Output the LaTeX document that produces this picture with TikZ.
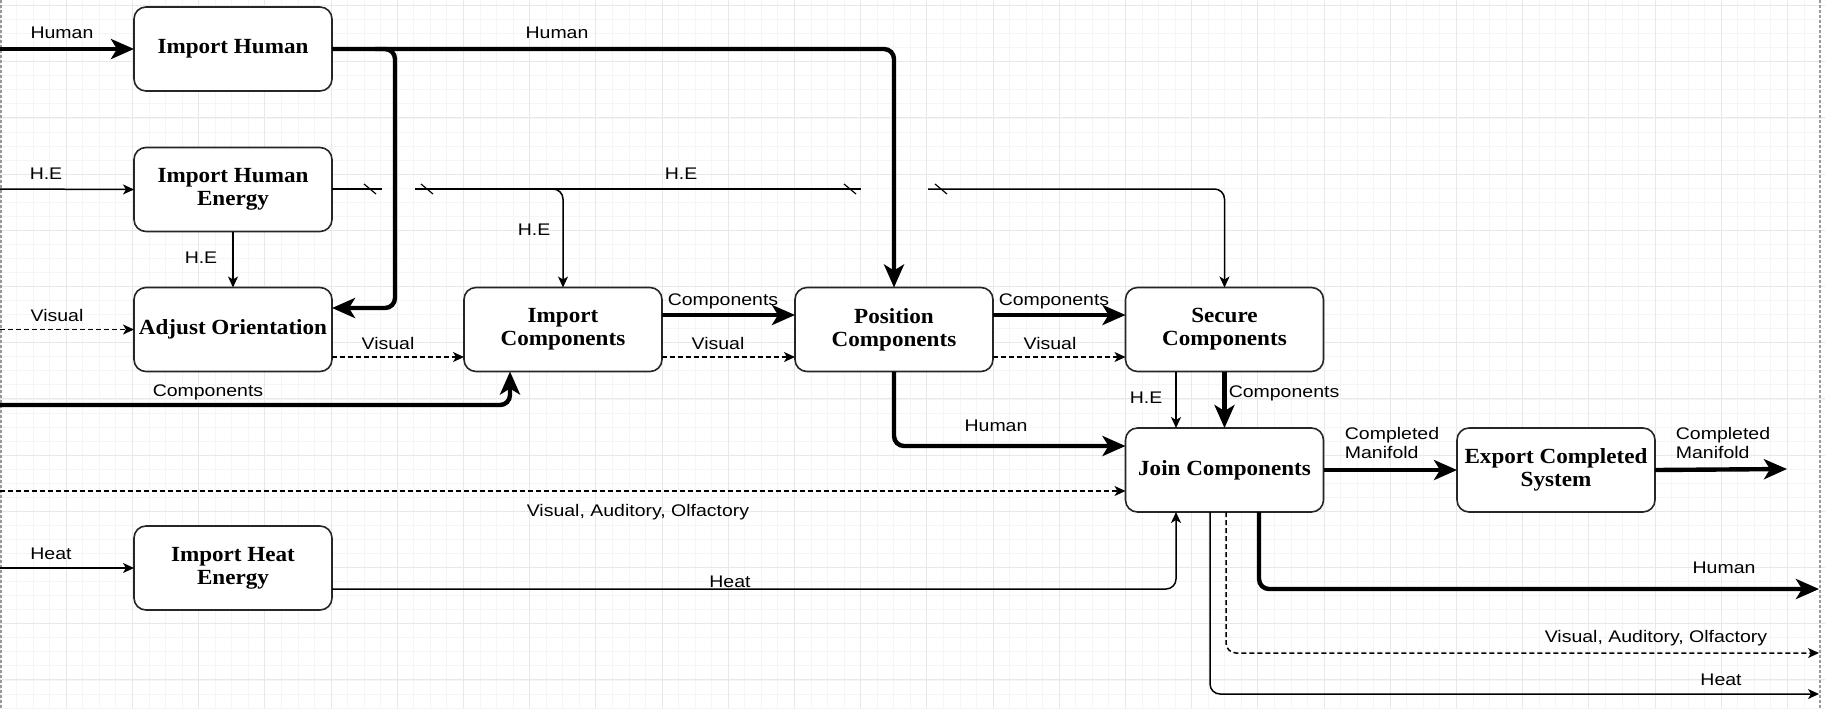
\documentclass[tikz,border=0pt]{standalone}
\usepackage{fontspec}
\newfontfamily\boxfont[FakeStretch=1.07]{Liberation Serif}
\newfontfamily\lblfont[FakeStretch=1.16]{Liberation Sans}
\usetikzlibrary{arrows.meta,calc}
\begin{document}
\begin{tikzpicture}[x=0.5pt,y=-0.5pt,
  box/.style={draw=black!85, line width=0.8pt, rounded corners=6pt, fill=white,
    minimum width=99pt, minimum height=42pt, inner sep=0pt, outer sep=0pt, align=center,
    font={\boxfont\bfseries\fontsize{10.8}{11.5}\selectfont}},
  lbl/.style={inner sep=0pt, font={\lblfont\fontsize{8.4}{9.6}\selectfont}},
  thk/.style={line width=2.2pt, rounded corners=5pt, -{Stealth[length=11.5pt,width=10pt,inset=3pt]}},
  thkline/.style={line width=2.2pt, rounded corners=5pt},
  thn/.style={line width=0.75pt, rounded corners=5pt, -{Stealth[length=5.5pt,width=5pt,inset=1.5pt]}},
  thnline/.style={line width=0.75pt, rounded corners=5pt},
  dsh/.style={thn, dash pattern=on 2.5pt off 1.5pt},
  tick/.style={line width=0.6pt},
  gminor/.style={line width=0.4pt, color=black!4},
  gmajor/.style={line width=0.5pt, color=black!9},
  pageb/.style={line width=0.6pt, color=black!40, dash pattern=on 1.5pt off 1pt}]

\fill[white] (0,0) rectangle (1825,708);
\useasboundingbox (0,0) rectangle (1825,708);
\begin{scope}
\clip (0,0) rectangle (1825,708);
\foreach \i in {0,...,111} {\draw[gminor] (\i*16.55,0) -- (\i*16.55,708);}
\foreach \j in {0,...,50} {\draw[gminor] (0,\j*14.05+5.5) -- (1825,\j*14.05+5.5);}
\foreach \i in {0,...,28} {\draw[gmajor] (\i*66.2,0) -- (\i*66.2,708);}
\foreach \j in {0,...,12} {\draw[gmajor] (0,\j*56.2+5.5) -- (1825,\j*56.2+5.5);}
\end{scope}
\draw[pageb] (1,0) -- (1,708);
\draw[pageb] (1820,0) -- (1820,708);

% boxes
\node[box] (ih)   at (233,49)    {Import Human};
\node[box] (ihe)  at (233,189.5) {Import Human\\Energy};
\node[box] (ao)   at (233,329.5) {Adjust Orientation};
\node[box] (ic)   at (563,329.5) {Import\\Components};
\node[box] (pc)   at (894,329.5) {Position\\Components};
\node[box] (sc)   at (1224.5,329.5) {Secure\\Components};
\node[box] (jc)   at (1224.5,470) {Join Components};
\node[box] (ecs)  at (1556,470)  {Export Completed\\System};
\node[box] (iht)  at (233,568)   {Import Heat\\Energy};

% free ends
\coordinate (inH)   at (0,49);
\coordinate (inHE)  at (0,189);
\coordinate (inV)   at (0,329.5);
\coordinate (inC)   at (0,405);
\coordinate (inVAO) at (0,491);
\coordinate (inHt)  at (0,568);
\coordinate (hs)    at (375,49);
\coordinate (g1a)   at (382,189);
\coordinate (g1b)   at (415,189);
\coordinate (g2a)   at (861,189);
\coordinate (g2b)   at (928,189);
\coordinate (hes)   at (540,189);
\coordinate (outCM) at (1787,469);
\coordinate (outH)  at (1819,589);
\coordinate (outV)  at (1819,653);
\coordinate (outHt) at (1819,694);

% Human
\draw[thk] (inH) -- (ih.west);
\draw[thk] (ih.east) -| (pc.north);
\draw[thk] (hs) -- (395,49) -- (395,308) -- (ao.east |- 0,308);

% Human energy
\draw[thn] (inHE) -- (ihe.west);
\draw[thn] (ihe.south) -- (ao.north);
\draw[thnline] (ihe.east |- 0,189) -- (g1a);
\draw[thnline] (g1b) -- (g2a);
\draw[thn] (g2b) -| (sc.north);
\draw[thn] (hes) -| (ic.north);
\draw[tick] (364,184) -- (376,194);
\draw[tick] (421,184) -- (433,194);
\draw[tick] (844,184) -- (856,194);
\draw[tick] (935,184) -- (947,194);

% Visual
\draw[dsh] (inV) -- (ao.west);
\draw[dsh] (ao.east |- 0,357) -- (ic.west |- 0,357);
\draw[dsh] (ic.east |- 0,357) -- (pc.west |- 0,357);
\draw[dsh] (pc.east |- 0,357) -- (sc.west |- 0,357);

% Components
\draw[thk] (inC) -| ($(ic.south)+(-53,0)$);
\draw[thk] (ic.east |- 0,315) -- (pc.west |- 0,315);
\draw[thk] (pc.east |- 0,315) -- (sc.west |- 0,315);
\draw[thk] (sc.south) -- (jc.north);
\draw[thn] (sc.south -| 1176,0) -- (jc.north -| 1176,0);
\draw[thk] (pc.south) |- (jc.west |- 0,446);

% VAO in
\draw[dsh] (inVAO) -- (jc.west |- 0,491);

% Heat
\draw[thn] (inHt) -- (iht.west);
\draw[thn] (iht.east |- 0,589) -| (jc.south -| 1176,0);

% outputs
\draw[thk] (jc.east) -- (ecs.west);
\draw[thk] (ecs.east) -- (outCM);
\draw[thk] (jc.south -| 1259,0) |- (outH);
\draw[dsh] (jc.south -| 1226,0) |- (outV);
\draw[thn] (jc.south -| 1210,0) |- (outHt);

% labels
\node[lbl] (l1)  at (62,33)    {Human};
\node[lbl] (l2)  at (557,33)   {Human};
\node[lbl] (l3)  at (46,174)   {H.E};
\node[lbl] (l4)  at (201,258)  {H.E};
\node[lbl] (l5)  at (534,230)  {H.E};
\node[lbl] (l6)  at (681,174)  {H.E};
\node[lbl] (l7)  at (57,315)   {Visual};
\node[lbl] (l8)  at (388,343)  {Visual};
\node[lbl] (l9)  at (208,392)  {Components};
\node[lbl] (l10) at (723,301)  {Components};
\node[lbl] (l11) at (718,343)  {Visual};
\node[lbl] (l12) at (1054,301) {Components};
\node[lbl] (l13) at (1050,343) {Visual};
\node[lbl] (l14) at (1146,398) {H.E};
\node[lbl] (l15) at (1284,393) {Components};
\node[lbl] (l16) at (996,426)  {Human};
\node[lbl] (l17) at (638,512)  {Visual, Auditory, Olfactory};
\node[lbl] (l18) at (51,554)   {Heat};
\node[lbl] (l19) at (730,582)  {Heat};
\node[lbl, align=left] (l20) at (1392,443) {Completed\\Manifold};
\node[lbl, align=left] (l21) at (1723,443) {Completed\\Manifold};
\node[lbl] (l22) at (1724,568) {Human};
\node[lbl] (l23) at (1656,638) {Visual, Auditory, Olfactory};
\node[lbl] (l24) at (1721,680) {Heat};
\end{tikzpicture}
\end{document}
